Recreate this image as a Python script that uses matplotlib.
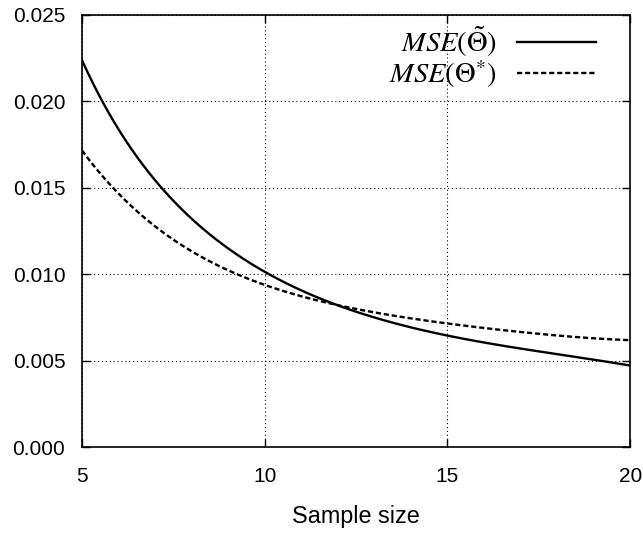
import numpy as np
import matplotlib
matplotlib.use("Agg")
import matplotlib.pyplot as plt

# values
sample_size = [5, 6, 7, 8, 9, 10, 11, 12, 13, 14, 15, 16, 17, 18, 19, 20]
mse_tilde = [0.0222, 0.0187, 0.0155, 0.0130, 0.01145, 0.0101, 0.0092, 0.0082, 0.0075,
             0.0070, 0.0064, 0.0060, 0.0057, 0.0054, 0.0051, 0.0047]
mse_star = [0.0172, 0.0146, 0.0128, 0.0113, 0.0102, 0.0095, 0.0088, 0.0081, 0.0077,
            0.0075, 0.0072, 0.0069, 0.0067, 0.0064, 0.0063, 0.0062]

xticks = [5, 10, 15, 20]
yticks = [0.000, 0.005, 0.010, 0.015, 0.020, 0.025]

plt.rcParams['font.family'] = ['Liberation Sans', 'DejaVu Sans']
plt.rcParams['mathtext.fontset'] = 'stix'

fig = plt.figure(figsize=(6.43, 5.33), dpi=100)
ax = fig.add_axes([0.1275, 0.161, 0.8525, 0.811])

# smooth the read points a bit for drawing
xs = np.linspace(5, 20, 300)
c1 = np.polyfit(sample_size, np.log(mse_tilde), 5)
c2 = np.polyfit(sample_size, np.log(mse_star), 5)
ax.plot(xs, np.exp(np.polyval(c1, xs)), color='black', lw=1.7,
        label=r'$MSE\left(\tilde{\Theta}\right)$')
ax.plot(xs, np.exp(np.polyval(c2, xs)), color='black', lw=1.7, ls=(0, (2.2, 1.2)),
        label=r'$MSE\left(\Theta^{*}\right)$')

ax.set_xlim(5, 20)
ax.set_ylim(0, 0.025)
ax.set_xticks(xticks)
ax.set_yticks(yticks)
ax.set_yticklabels(['%.3f' % v for v in yticks])
ax.tick_params(direction='in', length=6, width=1, top=True, right=True,
               labelsize=15, colors='black')
ax.tick_params(axis='y', pad=12)
ax.tick_params(axis='x', pad=14)
for s in ax.spines.values():
    s.set_linewidth(1.2)
ax.grid(True, ls=(0, (1, 2.5)), color='black', lw=0.8)
ax.set_xlabel('Sample size', fontsize=16.8, labelpad=14)

leg = ax.legend(loc='upper right', frameon=False, markerfirst=False, fontsize=20.5,
                handlelength=2.75, borderaxespad=0.1, labelspacing=0.0, handletextpad=0.72,
                bbox_to_anchor=(0.963, 1.012))

fig.savefig('out.png', dpi=100)
